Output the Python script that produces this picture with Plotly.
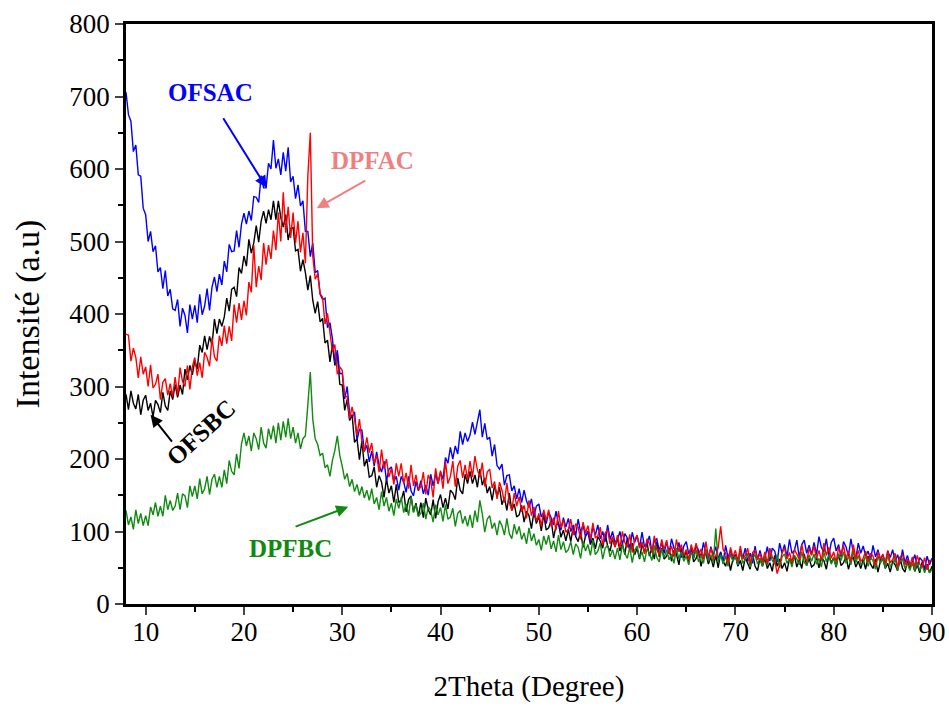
import plotly.graph_objects as go

# 2Theta grid: 8.00 .. 90.00 every 0.25 degree (329 points)
two_theta = [8.0 + 0.25 * i for i in range(329)]

ofsac = [  # blue
    706, 675, 666, 624, 633, 592, 590, 546, 537, 500, 514, 486, 494, 458, 464, 435, 460, 425, 434, 407,
    405, 420, 383, 408, 398, 374, 413, 393, 412, 388, 427, 399, 411, 435, 405, 437, 451, 431, 455, 440,
    473, 458, 496, 486, 487, 515, 492, 524, 539, 524, 542, 529, 562, 561, 554, 591, 574, 574, 608, 600,
    640, 601, 614, 592, 623, 597, 630, 582, 590, 559, 578, 549, 556, 514, 514, 479, 498, 457, 460, 427,
    420, 422, 381, 388, 366, 332, 350, 318, 318, 283, 300, 263, 258, 265, 226, 241, 240, 211, 219, 196,
    211, 190, 210, 191, 182, 197, 170, 186, 189, 169, 176, 157, 176, 168, 154, 176, 156, 149, 169, 156,
    170, 152, 164, 150, 179, 163, 180, 166, 182, 172, 202, 194, 216, 200, 218, 207, 238, 220, 236, 224,
    233, 251, 234, 254, 268, 230, 249, 227, 230, 204, 220, 191, 186, 193, 164, 177, 178, 156, 163, 145,
    159, 140, 157, 142, 133, 145, 121, 135, 138, 120, 127, 111, 127, 119, 109, 128, 110, 102, 119, 106,
    118, 100, 109, 94, 117, 99, 109, 93, 101, 86, 107, 95, 109, 90, 100, 86, 109, 89, 100, 85,
    89, 100, 82, 97, 91, 76, 99, 85, 94, 78, 99, 79, 84, 94, 72, 87, 90, 74, 84, 70,
    86, 69, 90, 77, 71, 85, 64, 80, 86, 69, 78, 63, 81, 74, 65, 85, 68, 61, 79, 67,
    79, 62, 72, 57, 81, 64, 74, 59, 68, 53, 74, 63, 77, 59, 70, 56, 80, 61, 74, 60,
    64, 79, 59, 77, 73, 58, 84, 70, 82, 65, 89, 70, 74, 88, 64, 82, 88, 70, 81, 68,
    85, 68, 93, 78, 72, 90, 66, 85, 91, 73, 82, 65, 86, 79, 66, 90, 70, 63, 84, 70,
    80, 66, 73, 61, 81, 65, 75, 61, 68, 56, 73, 64, 75, 58, 68, 55, 75, 57, 67, 54,
    57, 68, 51, 64, 60, 48, 66, 54, 63,
]

dpfac = [  # red
    372, 371, 335, 353, 340, 312, 341, 317, 327, 300, 330, 298, 303, 317, 282, 306, 311, 288, 304, 286,
    313, 288, 326, 307, 300, 329, 296, 327, 340, 315, 333, 312, 347, 340, 328, 367, 341, 335, 370, 356,
    384, 359, 383, 363, 413, 388, 415, 392, 418, 398, 444, 430, 495, 437, 466, 447, 498, 468, 495, 476,
    515, 488, 540, 500, 568, 512, 548, 505, 540, 498, 528, 485, 512, 470, 590, 650, 480, 448, 455, 428,
    423, 386, 401, 370, 348, 358, 317, 327, 322, 287, 286, 256, 272, 255, 233, 255, 224, 210, 230, 209,
    222, 194, 205, 182, 213, 186, 200, 175, 187, 165, 194, 176, 194, 166, 181, 159, 192, 163, 178, 157,
    162, 182, 151, 178, 170, 147, 187, 166, 184, 159, 197, 166, 176, 197, 162, 190, 198, 174, 192, 171,
    197, 175, 204, 185, 175, 195, 162, 182, 186, 160, 169, 145, 168, 157, 140, 167, 140, 129, 153, 135,
    148, 127, 136, 118, 143, 122, 134, 114, 125, 107, 130, 115, 130, 107, 119, 102, 128, 105, 116, 99,
    103, 117, 95, 111, 106, 89, 113, 98, 108, 89, 112, 91, 94, 106, 81, 98, 102, 83, 93, 78,
    95, 77, 100, 85, 78, 96, 71, 89, 95, 77, 86, 69, 90, 83, 71, 94, 75, 68, 89, 75,
    88, 70, 80, 65, 89, 72, 82, 67, 75, 61, 82, 70, 84, 66, 76, 62, 86, 65, 77, 63,
    66, 78, 107, 75, 70, 56, 78, 65, 74, 59, 80, 62, 67, 77, 56, 71, 75, 61, 70, 57,
    72, 56, 77, 65, 60, 42, 54, 71, 77, 62, 71, 57, 75, 69, 61, 82, 65, 59, 77, 67,
    80, 63, 74, 60, 84, 67, 78, 63, 72, 58, 78, 67, 81, 62, 73, 59, 82, 62, 74, 59,
    63, 73, 58, 70, 66, 53, 72, 62, 69, 56, 74, 57, 61, 70, 51, 65, 68, 54, 62, 52,
    65, 51, 67, 55, 51, 64, 47, 60, 60,
]

ofsbc = [  # black
    289, 268, 294, 277, 269, 289, 261, 281, 288, 267, 277, 258, 281, 275, 264, 292, 273, 267, 294, 282,
    303, 285, 302, 289, 324, 309, 329, 316, 336, 324, 357, 347, 370, 351, 369, 357, 393, 373, 393, 383,
    396, 422, 404, 434, 437, 424, 464, 456, 480, 466, 503, 484, 498, 522, 499, 528, 542, 525, 544, 530,
    556, 530, 556, 533, 520, 537, 502, 518, 519, 487, 489, 459, 475, 457, 433, 453, 419, 401, 417, 389,
    394, 360, 364, 334, 358, 329, 345, 303, 302, 267, 282, 253, 261, 223, 228, 199, 225, 190, 200, 175,
    177, 189, 161, 177, 168, 147, 173, 153, 163, 140, 165, 140, 143, 156, 127, 144, 149, 127, 139, 121,
    140, 119, 146, 130, 123, 144, 118, 141, 151, 133, 146, 131, 157, 153, 144, 174, 157, 152, 179, 166,
    183, 166, 178, 161, 186, 164, 174, 153, 162, 143, 164, 148, 161, 137, 147, 129, 153, 129, 138, 120,
    123, 136, 113, 128, 122, 104, 127, 111, 121, 101, 124, 102, 105, 116, 91, 108, 112, 92, 102, 87,
    103, 86, 106, 93, 86, 100, 78, 94, 99, 82, 91, 76, 93, 87, 77, 97, 80, 73, 90, 79,
    91, 73, 83, 68, 91, 74, 84, 68, 77, 62, 83, 71, 85, 66, 77, 62, 86, 65, 77, 62,
    66, 77, 59, 74, 69, 54, 77, 63, 73, 57, 78, 58, 63, 73, 52, 67, 70, 55, 65, 51,
    67, 50, 71, 59, 52, 67, 46, 62, 68, 52, 60, 46, 64, 57, 48, 69, 52, 46, 63, 52,
    63, 49, 57, 45, 67, 52, 62, 49, 57, 45, 63, 55, 67, 51, 61, 49, 69, 53, 63, 51,
    54, 65, 50, 64, 60, 48, 67, 57, 64, 51, 69, 53, 57, 66, 48, 61, 64, 51, 59, 49,
    61, 48, 66, 55, 49, 62, 44, 59, 62, 49, 56, 44, 59, 54, 46, 64, 49, 44, 59, 50,
    57, 45, 54, 43, 58, 46, 55, 43, 52,
]

dpfbc = [  # green
    129, 109, 120, 103, 130, 111, 125, 108, 122, 108, 134, 123, 140, 121, 135, 121, 150, 130, 143, 129,
    135, 153, 130, 152, 149, 133, 163, 148, 163, 145, 173, 152, 159, 176, 151, 172, 179, 161, 176, 161,
    185, 166, 198, 183, 178, 207, 187, 221, 236, 218, 232, 211, 236, 228, 213, 244, 222, 215, 242, 227,
    246, 222, 250, 226, 252, 230, 256, 228, 244, 222, 236, 214, 228, 232, 275, 320, 255, 228, 220, 205,
    208, 188, 192, 176, 198, 212, 232, 205, 190, 172, 180, 162, 172, 155, 165, 150, 162, 146, 157, 143,
    159, 138, 147, 130, 155, 135, 147, 128, 139, 122, 145, 132, 147, 126, 138, 122, 148, 126, 137, 121,
    125, 139, 117, 134, 129, 113, 137, 123, 133, 114, 137, 117, 120, 132, 107, 125, 129, 111, 121, 107,
    123, 105, 129, 113, 143, 124, 99, 117, 122, 104, 112, 95, 115, 108, 95, 118, 97, 90, 110, 96,
    107, 89, 98, 83, 105, 87, 97, 81, 89, 74, 94, 82, 95, 76, 87, 72, 95, 75, 86, 71,
    75, 86, 68, 83, 78, 63, 86, 73, 82, 67, 88, 68, 73, 84, 62, 77, 81, 65, 75, 62,
    77, 61, 82, 70, 63, 78, 57, 74, 80, 63, 72, 58, 76, 70, 60, 81, 64, 58, 76, 64,
    75, 61, 69, 56, 77, 62, 72, 59, 66, 54, 72, 63, 75, 58, 68, 56, 76, 59, 68, 56,
    104, 58, 68, 55, 66, 52, 69, 59, 66, 54, 72, 56, 62, 70, 51, 64, 68, 55, 63, 52,
    66, 53, 71, 60, 55, 68, 50, 65, 69, 56, 63, 51, 67, 62, 54, 72, 58, 53, 68, 59,
    69, 55, 63, 51, 72, 58, 68, 55, 63, 51, 69, 60, 72, 56, 66, 54, 74, 57, 67, 55,
    56, 67, 52, 64, 60, 48, 66, 56, 64, 50, 68, 52, 55, 64, 46, 59, 62, 49, 56, 46,
    58, 46, 58, 46, 54, 43, 53, 43, 48,
]

x_ticks = [10, 20, 30, 40, 50, 60, 70, 80, 90]
y_ticks = [0, 100, 200, 300, 400, 500, 600, 700, 800]

FONT = "Liberation Serif, Times New Roman, serif"

fig = go.Figure()
series = [
    ("OFSBC", ofsbc, "#000000"),
    ("OFSAC", ofsac, "#0000ff"),
    ("DPFBC", dpfbc, "#108a10"),
    ("DPFAC", dpfac, "#ff0000"),
]
for name, vals, col in series:
    fig.add_trace(go.Scatter(x=two_theta, y=vals, mode="lines", name=name,
                             line=dict(color=col, width=1.4)))

labels = [
    # text, x, y, color, angle
    ("OFSAC", 16.6, 706, "#0000ff", 0),
    ("DPFAC", 33.1, 612, "#f08080", 0),
    ("OFSBC", 15.6, 237, "#000000", -43),
    ("DPFBC", 24.7, 77, "#108a10", 0),
]
for t, x, y, c, a in labels:
    fig.add_annotation(x=x, y=y, text="<b>%s</b>" % t, showarrow=False,
                       textangle=a, font=dict(family=FONT, size=25, color=c))

arrows = [
    # tail x, tail y, head x, head y, color
    (17.8, 672, 22.3, 574, "#0000ff"),
    (32.5, 585, 27.4, 546, "#f08080"),
    (12.8, 222, 10.5, 261, "#000000"),
    (25.1, 106, 30.6, 134, "#108a10"),
]
for tx, ty, hx, hy, c in arrows:
    fig.add_annotation(x=hx, y=hy, ax=tx, ay=ty, axref="x", ayref="y",
                       xref="x", yref="y", text="", showarrow=True,
                       arrowhead=2, arrowsize=1.2, arrowwidth=2, arrowcolor=c)

fig.update_layout(
    width=949, height=707,
    margin=dict(l=126, r=17, t=24, b=103),
    paper_bgcolor="white", plot_bgcolor="white",
    showlegend=False,
    font=dict(family=FONT, size=27, color="black"),
)
fig.update_xaxes(
    range=[8, 90], tickvals=x_ticks, ticks="outside", ticklen=8, tickwidth=2,
    showline=True, linewidth=2.5, linecolor="black", mirror=True,
    showgrid=False, zeroline=False, automargin=False, ticklabelstandoff=-6,
    minor=dict(dtick=5, tick0=0, ticks="outside", ticklen=5, tickwidth=2, tickcolor="black"),
    title=dict(text="2Theta (Degree)", font=dict(size=29), standoff=30),
    tickfont=dict(size=27),
)
fig.update_yaxes(
    range=[0, 800], tickvals=y_ticks, ticks="outside", ticklen=8, tickwidth=2,
    showline=True, linewidth=2.5, linecolor="black", mirror=True,
    showgrid=False, zeroline=False, automargin=False,
    minor=dict(dtick=50, tick0=0, ticks="outside", ticklen=5, tickwidth=2, tickcolor="black"),
    title=dict(text="Intensité (a.u)", font=dict(size=34), standoff=20),
    tickfont=dict(size=27),
)

# remove the browser's default 8px body margin so the figure fills the window
fig.write_html("out.html", config={"displayModeBar": False},
               post_script="document.body.style.margin='0px';")
